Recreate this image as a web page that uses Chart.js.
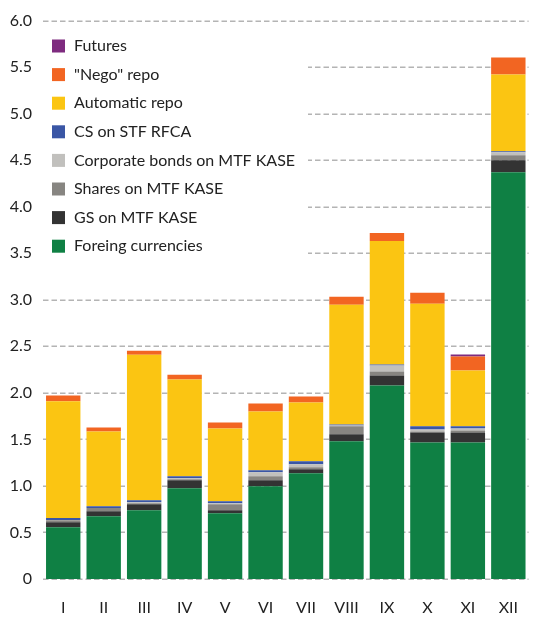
<!DOCTYPE html>
<html>
<head>
<meta charset="utf-8">
<script src="https://cdn.jsdelivr.net/npm/chart.js@4/dist/chart.umd.min.js"></script>
<style>
html,body{margin:0;padding:0;background:#fff;}
#wrap{width:537px;height:619px;position:relative;}
</style>
</head>
<body>
<div id="wrap"><canvas id="c" width="537" height="619"></canvas></div>
<script>
const categories = ["I","II","III","IV","V","VI","VII","VIII","IX","X","XI","XII"];
const foreignCurrencies = [0.557,0.675,0.739,0.975,0.707,0.996,1.136,1.479,2.079,1.468,1.468,4.371];
const gsMtfKase        = [0.053,0.054,0.064,0.086,0.032,0.065,0.043,0.075,0.107,0.107,0.107,0.129];
const sharesMtfKase    = [0.020,0.035,0.010,0.010,0.064,0.043,0.021,0.086,0.043,0.011,0.021,0.054];
const corpBondsMtfKase = [0.005,0.000,0.013,0.011,0.011,0.042,0.032,0.010,0.064,0.021,0.022,0.032];
const csStfRfca        = [0.020,0.018,0.020,0.022,0.022,0.022,0.032,0.011,0.011,0.033,0.022,0.010];
const automaticRepo    = [1.254,0.804,1.564,1.039,0.782,0.632,0.632,1.285,1.328,1.317,0.600,0.825];
const negoRepo         = [0.063,0.043,0.043,0.053,0.064,0.086,0.064,0.086,0.086,0.118,0.150,0.183];
const futures          = [0,0,0,0,0,0,0,0,0,0,0.021,0];
const yTicks = [0,0.5,1.0,1.5,2.0,2.5,3.0,3.5,4.0,4.5,5.0,5.5,6.0];

const series = [
  {label:"Foreing currencies", data:foreignCurrencies, color:"#0f8044"},
  {label:"GS on MTF KASE", data:gsMtfKase, color:"#333333"},
  {label:"Shares on MTF KASE", data:sharesMtfKase, color:"#878581"},
  {label:"Corporate bonds on MTF KASE", data:corpBondsMtfKase, color:"#c1c0bd"},
  {label:"CS on STF RFCA", data:csStfRfca, color:"#3a56a5"},
  {label:"Automatic repo", data:automaticRepo, color:"#fbc512"},
  {label:"\"Nego\" repo", data:negoRepo, color:"#f26522"},
  {label:"Futures", data:futures, color:"#7e2b7f"}
];

const FONT = "Lato, 'Noto Sans', sans-serif";

const dashedGrid = {
  id:'dashedGrid',
  beforeDatasetsDraw(chart){
    const ctx = chart.ctx, a = chart.chartArea, ys = chart.scales.y;
    ctx.save();
    ctx.strokeStyle = '#b4b4b4';
    ctx.lineWidth = 1.5;
    ctx.setLineDash([5.5,3]);
    ys.ticks.forEach(t=>{
      const y = Math.round(ys.getPixelForValue(t.value)) + 0.25;
      ctx.beginPath();
      ctx.moveTo(a.left, y);
      ctx.lineTo(a.right, y);
      ctx.stroke();
    });
    ctx.restore();
  }
};

const legendPlugin = {
  id:'insideLegend',
  afterDatasetsDraw(chart){
    const ctx = chart.ctx;
    const a = chart.chartArea;
    ctx.save();
    ctx.fillStyle = '#ffffff';
    ctx.fillRect(a.left, 27, 308 - a.left, 236);
    const ds = chart.data.datasets.slice().reverse();
    ctx.font = "16px " + FONT;
    ctx.textBaseline = 'middle';
    ds.forEach((d,i)=>{
      const y = 46 + i*28.6;
      ctx.fillStyle = d.backgroundColor;
      ctx.fillRect(52, y-6.5, 13, 13);
      ctx.fillStyle = '#222222';
      ctx.fillText(d.label, 74, y);
    });
    ctx.restore();
  }
};

new Chart(document.getElementById('c'), {
  type:'bar',
  data:{
    labels:categories,
    datasets: series.map(s=>({label:s.label, data:s.data, backgroundColor:s.color, borderWidth:0, barPercentage:0.85, categoryPercentage:1.0}))
  },
  options:{
    responsive:false,
    animation:false,
    layout:{padding:{top:19,right:0,left:0,bottom:0}},
    plugins:{legend:{display:false}, tooltip:{enabled:false}},
    scales:{
      x:{
        stacked:true,
        grid:{display:false, drawTicks:false},
        border:{display:false},
        ticks:{color:'#222', font:{family:FONT, size:16}, padding:19},
        afterFit(s){ s.height = 40; }
      },
      y:{
        stacked:true,
        min:0, max:6,
        afterBuildTicks(s){ s.ticks = yTicks.map(v=>({value:v})); },
        grid:{display:false, drawTicks:false},
        border:{display:false},
        ticks:{color:'#222', font:{family:FONT, size:16}, padding:11,
          callback:(v)=> v===0 ? '0' : Number(v).toFixed(1)},
        afterFit(s){ s.width = 43; }
      }
    }
  },
  plugins:[dashedGrid, legendPlugin]
});
</script>
</body>
</html>
